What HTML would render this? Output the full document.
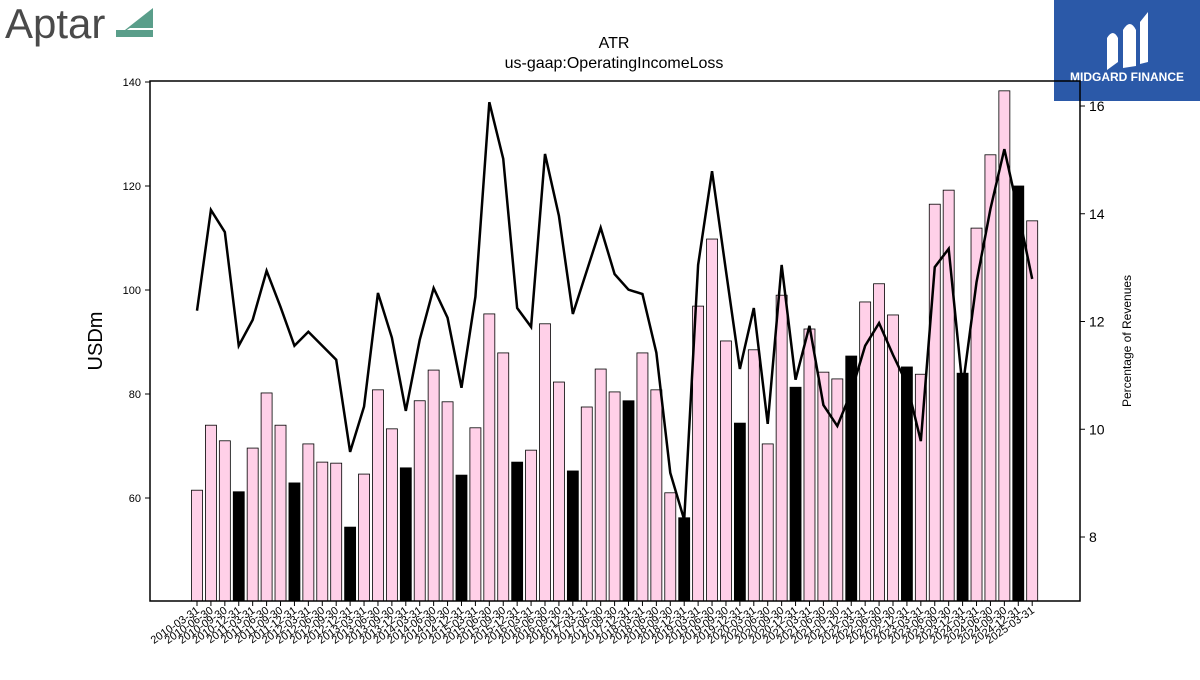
<!DOCTYPE html>
<html><head><meta charset="utf-8"><style>
body{margin:0;background:#fff;width:1200px;height:675px;overflow:hidden;font-family:"Liberation Sans",sans-serif}
</style></head><body>
<svg id="c" width="1200" height="675" xmlns="http://www.w3.org/2000/svg">
<g>
<text x="5" y="38" font-size="42" fill="#4a4a4a" font-family="Liberation Sans">Aptar</text>
<polygon points="116,37 153,8 153,28 130,28" fill="#5a9e8a"/>
<rect x="116" y="30" width="37" height="7" fill="#5a9e8a"/>
</g>
<g>
<rect x="1054" y="0" width="146" height="101" fill="#2b59a8"/>
<path d="M1107,70 L1107,38 Q1113,28 1118,38 L1118,62 Z M1123,68 L1123,30 Q1130,18 1136,30 L1136,66 Z M1140,64 L1140,22 L1148,12 L1148,62 Z" fill="#fff"/>
<text x="1127" y="81" font-size="12" font-weight="bold" fill="#fff" text-anchor="middle">MIDGARD FINANCE</text>
</g>
<text x="614" y="48" font-size="16" text-anchor="middle">ATR</text>
<text x="614" y="68" font-size="16" text-anchor="middle">us-gaap:OperatingIncomeLoss</text>
<text transform="translate(102,341) rotate(-90)" font-size="20" text-anchor="middle">USDm</text>
<text transform="translate(1131,341) rotate(-90)" font-size="12" text-anchor="middle">Percentage of Revenues</text>
<g id="bars"></g><g id="line"></g><g id="axes"></g>
<rect x="150" y="81" width="930" height="520" fill="none" stroke="#000" stroke-width="1.5"/>
</svg>
<script>
const values=[61.5,74,71,61.2,69.6,80.2,74,62.9,70.4,66.9,66.7,54.4,64.6,80.8,73.3,65.8,78.7,84.6,78.5,64.4,73.5,95.4,87.9,66.9,69.2,93.5,82.3,65.2,77.5,84.8,80.4,78.7,87.9,80.8,61,56.2,96.9,109.8,90.2,74.4,88.5,70.4,99,81.3,92.5,84.2,82.9,87.3,97.7,101.2,95.2,85.2,83.8,116.5,119.2,84,111.9,126,138.3,120,113.3];
const pct=[12.2,14.07,13.66,11.55,12.03,12.94,12.27,11.55,11.81,11.55,11.29,9.58,10.42,12.53,11.7,10.34,11.66,12.62,12.07,10.77,12.46,16.07,15.02,12.25,11.9,15.11,13.96,12.14,12.94,13.74,12.88,12.59,12.51,11.42,9.19,8.32,13.05,14.79,12.94,11.12,12.25,10.1,13.05,10.92,11.92,10.45,10.06,10.69,11.55,11.97,11.38,10.84,9.78,13.01,13.35,10.77,12.73,14.09,15.2,14.03,12.79];
const leftTicks=[60,80,100,120,140];
const rightTicks=[8,10,12,14,16];
const dates=[];
for(let y=2010;y<=2025;y++)for(const m of["03-31","06-30","09-30","12-31"]){if(dates.length<values.length)dates.push(y+"-"+m);}
const NS="http://www.w3.org/2000/svg";
const yL=v=>498-(v-60)*5.2;
const yR=p=>106+(16-p)*53.875;
const xI=i=>197+i*13.92;
function mk(t,a,p){const e=document.createElementNS(NS,t);for(const k in a)e.setAttribute(k,a[k]);p.appendChild(e);return e;}
const bars=document.getElementById('bars'),line=document.getElementById('line'),axes=document.getElementById('axes');
values.forEach((v,i)=>{const q4=dates[i].endsWith("12-31");
const r=mk('rect',{x:xI(i)-5.5,y:yL(v),width:11,height:601-yL(v),fill:q4?'#000':'#ffd0e8',stroke:'#000','stroke-width':0.8},bars);


const t=mk('line',{x1:xI(i),x2:xI(i),y1:601,y2:606,stroke:'#000'},axes);


const l=mk('text',{transform:`translate(${xI(i)+3},${612}) rotate(-35)`,'font-size':11,'text-anchor':'end'},axes);l.textContent=dates[i];


});
const pl=mk('polyline',{points:pct.map((p,i)=>xI(i)+','+yR(p)).join(' '),fill:'none',stroke:'#000','stroke-width':2.5},line);


leftTicks.forEach(v=>{mk('line',{x1:145,x2:150,y1:yL(v),y2:yL(v),stroke:'#000'},axes);
const t=mk('text',{x:141,y:yL(v)+4,'font-size':11,'text-anchor':'end'},axes);t.textContent=v;

});
rightTicks.forEach(v=>{mk('line',{x1:1080,x2:1085,y1:yR(v),y2:yR(v),stroke:'#000'},axes);
const t=mk('text',{x:1089,y:yR(v)+5,'font-size':14},axes);t.textContent=v;

});
</script>
</body></html>
